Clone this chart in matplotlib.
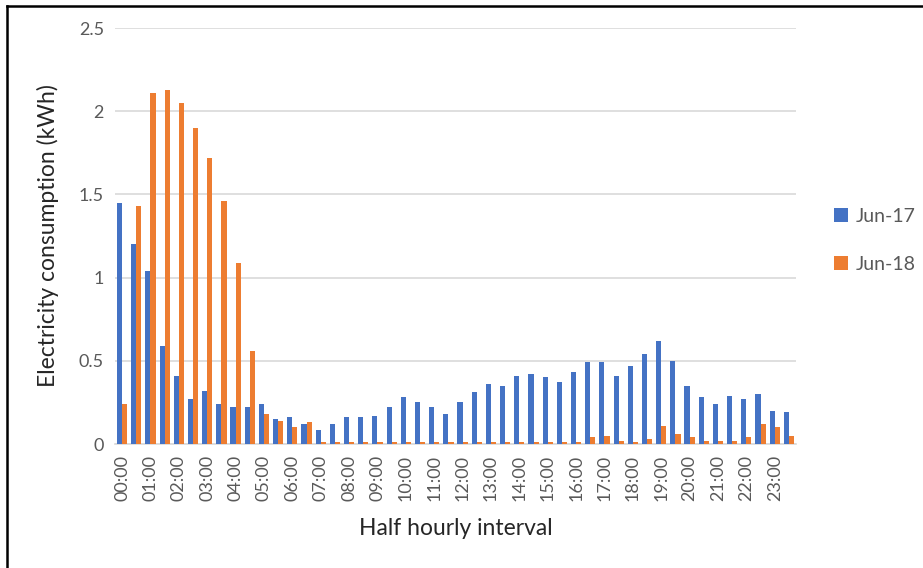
import matplotlib
matplotlib.use('Agg')
import matplotlib.pyplot as plt
from matplotlib.lines import Line2D
import numpy as np

plt.rcParams['font.family'] = ['Lato', 'DejaVu Sans']

# half hourly readings, 00:00 .. 23:30
slots = ['%02d:%02d' % (h, m) for h in range(24) for m in (0, 30)]
jun17 = [1.45, 1.20, 1.04, 0.59, 0.41, 0.27, 0.32, 0.24, 0.22, 0.22,
         0.24, 0.15, 0.16, 0.12, 0.085, 0.12, 0.16, 0.16, 0.17, 0.22,
         0.28, 0.25, 0.22, 0.18, 0.25, 0.31, 0.36, 0.35, 0.41, 0.42,
         0.40, 0.37, 0.43, 0.49, 0.49, 0.41, 0.47, 0.54, 0.62, 0.50,
         0.35, 0.28, 0.24, 0.29, 0.27, 0.30, 0.20, 0.19]
jun18 = [0.24, 1.43, 2.11, 2.13, 2.05, 1.90, 1.72, 1.46, 1.085, 0.56,
         0.18, 0.14, 0.10, 0.13, 0.01, 0.01, 0.01, 0.01, 0.01, 0.01,
         0.01, 0.01, 0.01, 0.01, 0.01, 0.01, 0.01, 0.01, 0.01, 0.01,
         0.01, 0.01, 0.01, 0.04, 0.05, 0.02, 0.01, 0.03, 0.11, 0.06,
         0.04, 0.02, 0.02, 0.02, 0.04, 0.12, 0.10, 0.05]
yticks = [0, 0.5, 1, 1.5, 2, 2.5]
ytick_labels = ['0', '0.5', '1', '1.5', '2', '2.5']

blue = '#4472c4'
orange = '#ed7d31'
grey = '#595959'

fig = plt.figure(figsize=(9.23, 5.68), dpi=100)
ax = fig.add_axes([0.1246, 0.2183, 0.7378, 0.7324])

x = np.arange(len(slots))
w = 0.36
ax.bar(x - w / 2, jun17, width=w, color=blue, label='Jun-17', zorder=3)
ax.bar(x + w / 2, jun18, width=w, color=orange, label='Jun-18', zorder=3)

ax.set_xlim(-0.5, len(slots) - 0.5)
ax.set_ylim(0, 2.5)
ax.set_yticks(yticks)
ax.set_yticklabels(ytick_labels)
ax.yaxis.grid(True, color='#d9d9d9', linewidth=1.2, zorder=0)
ax.set_xticks(x[::2])
ax.set_xticklabels(slots[::2], rotation=90)
ax.tick_params(axis='both', length=0, labelsize=13, colors=grey)
ax.tick_params(axis='x', pad=8)
ax.tick_params(axis='y', pad=8)
for s in ['top', 'right', 'left']:
    ax.spines[s].set_visible(False)
ax.spines['bottom'].set_color('#d9d9d9')
ax.spines['bottom'].set_linewidth(1.2)

ax.set_xlabel('Half hourly interval', fontsize=16.5, color='#262626', labelpad=12)
ax.set_ylabel('Electricity consumption (kWh)', fontsize=16.5, color='#262626', labelpad=14)

ax.legend(loc='center left', bbox_to_anchor=(1.03, 0.49), frameon=False,
          fontsize=14, labelcolor=grey, handlelength=0.7, handleheight=0.7,
          handletextpad=0.4, labelspacing=1.6)

# chart frame (left and top edges)
fig.add_artist(Line2D([7.5 / 923, 7.5 / 923], [0, 1 - 5.5 / 568], transform=fig.transFigure,
                      color='black', linewidth=1.8))
fig.add_artist(Line2D([7.5 / 923, 1], [1 - 5.5 / 568, 1 - 5.5 / 568], transform=fig.transFigure,
                      color='black', linewidth=1.8))

fig.savefig('out.png', dpi=100)
